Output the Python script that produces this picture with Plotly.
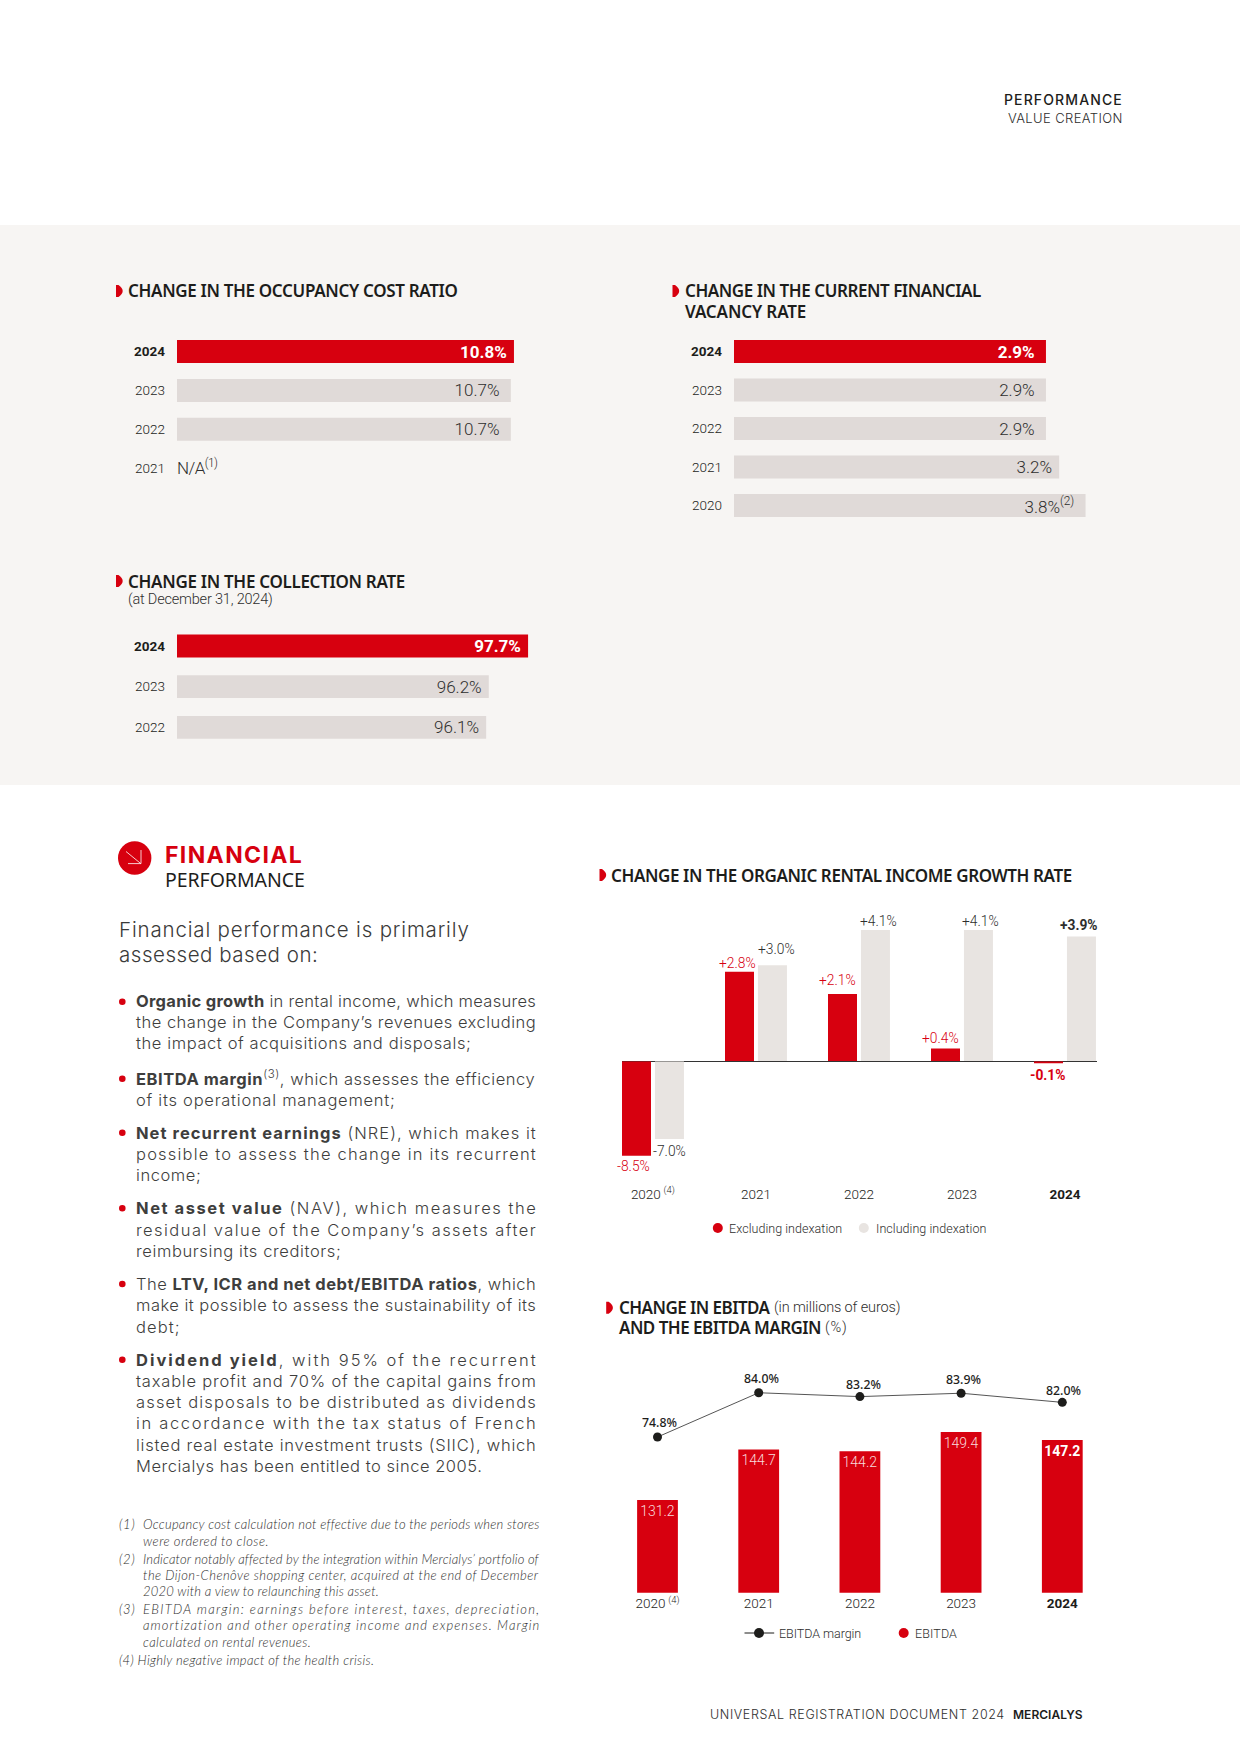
import json
import plotly.graph_objects as go

W, H = 1240, 1753
RED = "#D7000F"
BAR_GRAY = "#E0DAD8"
LIGHT_GRAY = "#E8E4E1"
PANEL = "#F7F5F3"
DARK = "#1D1D1B"
TEXT = "#2E2E2D"
CHART_FONT = "Roboto"
TITLE_FONT = "Noto Sans"
BODY_FONT = "Inter"
NOTE_FONT = "Lato"
NB = "\u00a0"

# ---------------- data ----------------
occ_years = ["2024", "2023", "2022", "2021"]
occ_values = [10.8, 10.7, 10.7]
occ_labels = ["<b>10.8%</b>", "10.7%" + NB, "10.7%" + NB]

vac_years = ["2024", "2023", "2022", "2021", "2020"]
vac_values = [2.9, 2.9, 2.9, 3.2, 3.8]
vac_labels = ["<b>2.9%</b>" + NB, "2.9%" + NB, "2.9%" + NB, "3.2%", "3.8%<sup>(2)</sup>" + NB]

col_years = ["2024", "2023", "2022"]
col_values = [97.7, 96.2, 96.1]
col_labels = ["<b>97.7%</b>", "96.2%", "96.1%"]

years = ["2020", "2021", "2022", "2023", "2024"]
year_ticks = ["2020\u2009<sup>(4)</sup>", "2021", "2022", "2023", "<b>2024</b>"]
excl_index = [-8.5, 2.8, 2.1, 0.4, -0.1]
incl_index = [-7.0, 3.0, 4.1, 4.1, 3.9]
excl_labels = ["-8.5%", "+2.8%", "+2.1%", "+0.4%", "<b>-0.1%</b>"]
incl_labels = ["-7.0%", "+3.0%", "+4.1%", "+4.1%", "<b>+3.9%</b>"]

ebitda = [131.2, 144.7, 144.2, 149.4, 147.2]
ebitda_labels = ["131.2", "144.7", "144.2", "149.4", "<b>147.2</b>"]
margin = [74.8, 84.0, 83.2, 83.9, 82.0]
margin_labels = ["74.8%", "84.0%", "83.2%", "83.9%", "82.0%"]

body_lines = [
    ("<b>Organic growth</b> in rental income, which measures", 1001.2, 399),
    ("the change in the Company’s revenues excluding", 1022.2, 399),
    ("the impact of acquisitions and disposals;", 1043.2, 334),
    ("<b>EBITDA margin</b><sup>(3)</sup>, which assesses the efficiency", 1078.2, 399),
    ("of its operational management;", 1099.5, 258),
    ("<b>Net recurrent earnings</b> (NRE), which makes it", 1132.7, 399),
    ("possible to assess the change in its recurrent", 1154, 399),
    ("income;", 1175.3, 64),
    ("<b>Net asset value</b> (NAV), which measures the", 1208.3, 399),
    ("residual value of the Company’s assets after", 1229.7, 399),
    ("reimbursing its creditors;", 1251, 204),
    ("The <b>LTV, ICR and net debt/EBITDA ratios</b>, which", 1284, 399),
    ("make it possible to assess the sustainability of its", 1305.3, 399),
    ("debt;", 1326.7, 42.7),
    ("<b>Dividend yield</b>, with 95% of the recurrent", 1359.7, 399),
    ("taxable profit and 70% of the capital gains from", 1381, 399),
    ("asset disposals to be distributed as dividends", 1402.3, 399),
    ("in accordance with the tax status of French", 1423.3, 399),
    ("listed real estate investment trusts (SIIC), which", 1444.7, 399),
    ("Mercialys has been entitled to since 2005.", 1466, 345),
]
bullet_ys = [1001.7, 1078.7, 1132.7, 1208.3, 1284, 1359.7]

note_lines = [
    ("Occupancy cost calculation not effective due to the periods when stores", 1524, 395),
    ("were ordered to close.", 1540.7, 124.7),
    ("Indicator notably affected by the integration within Mercialys’ portfolio of", 1558.7, 395),
    ("the Dijon-Chenôve shopping center, acquired at the end of December", 1575, 395),
    ("2020 with a view to relaunching this asset.", 1591, 235),
    ("EBITDA margin: earnings before interest, taxes, depreciation,", 1609, 395),
    ("amortization and other operating income and expenses. Margin", 1625.3, 395),
    ("calculated on rental revenues.", 1641.7, 167),
]
note_marks = [("(1)", 1524), ("(2)", 1558.7), ("(3)", 1609)]

# label offsets, in pixels, from the point each label belongs to
excl_dx, excl_dy = [-19, -18.4, -21.2, -21.2, -17.9], [-10, 9, 14, 11, -12.5]
incl_dx, incl_dy = [16.8, 20.7, 19.6, 18.4, 14.5], [-12, 16, 9.5, 9.5, 11.5]
margin_dx, margin_dy = [1.5, 2.7, 3.6, 2.1, 1], [14.3, 14, 12, 13.3, 12]

# ---------------- helpers ----------------
def px(x):
    return x / W

def py(y):
    return 1 - y / H

def xdom(a, b):
    return [px(a), px(b)]

def ydom(top, bottom):
    return [py(bottom), py(top)]

def cat_range(first_centre, step, start, end):
    return [(start - first_centre) / step, (end - first_centre) / step]

HIDDEN = dict(showticklabels=False, ticks="", showgrid=False, zeroline=False, showline=False)
annotations, shapes, fit = [], [], []

def label(text, x, y, size, family=CHART_FONT, color=TEXT, weight=400, target=None, style="normal"):
    annotations.append(dict(
        text=text, x=px(x - 0.8), y=py(y), xref="paper", yref="paper", showarrow=False,
        xanchor="left", yanchor="middle", align="left", borderpad=0,
        font=dict(family=family, size=size, color=color, weight=weight, style=style)))
    if target is not None:
        fit.append([len(annotations) - 1, target + 0.8])

def data_label(text, cat_index, value, xref, yref, dx, dy, font):
    # numeric-looking categories must be addressed by their index on the axis
    annotations.append(dict(
        text=text, x=cat_index, y=value, xref=xref, yref=yref, xshift=dx, yshift=dy, showarrow=False,
        xanchor="center", yanchor="middle", align="center", borderpad=0, font=font))

def dot(x, y, r, color):
    shapes.append(dict(type="circle", xref="paper", yref="paper", x0=px(x - r), x1=px(x + r),
                       y0=py(y + r), y1=py(y - r), fillcolor=color, line_width=0))

def line(x0, y0, x1, y1, color, width):
    shapes.append(dict(type="line", xref="paper", yref="paper", x0=px(x0), x1=px(x1),
                       y0=py(y0), y1=py(y1), line=dict(color=color, width=width)))

def title_mark(x, y):
    pts = [(x, y - 6), (x, y + 6), (x + 2.5, y + 6), (x + 10.9, y), (x + 2.5, y - 6)]
    p = [(px(a), py(b)) for a, b in pts]
    path = (f"M{p[0][0]},{p[0][1]} L{p[1][0]},{p[1][1]} L{p[2][0]},{p[2][1]} "
            f"Q{p[3][0]},{p[3][1]} {p[4][0]},{p[4][1]} Z")
    shapes.append(dict(type="path", path=path, xref="paper", yref="paper", fillcolor=RED, line_width=0))

fig = go.Figure()
layout_axes = {}

def hbar_chart(n, cats, values, labels, x0, scale, start, top, bottom, centre, step, width, base=None):
    sx = "" if n == 1 else str(n)
    xs = values if base is None else [v - base for v in values]
    colors = [RED] + [BAR_GRAY] * (len(values) - 1)
    tcolors = ["white"] + [TEXT] * (len(values) - 1)
    fig.add_trace(go.Bar(
        orientation="h", y=cats[:len(values)], x=xs, base=base, width=width,
        marker=dict(color=colors, line_width=0),
        text=[t + NB for t in labels], textposition="inside", insidetextanchor="end",
        textangle=0, constraintext="none", cliponaxis=False,
        textfont=dict(family=CHART_FONT, size=17, color=tcolors, weight=300),
        xaxis="x" + sx, yaxis="y" + sx, hoverinfo="skip", showlegend=False))
    x1 = x0 + 400
    layout_axes["xaxis" + sx] = dict(domain=xdom(x0, x1), range=[start, start + 400 / scale],
                                     anchor="y" + sx, **HIDDEN)
    ticks = ["<b>%s</b>" % c if c == "2024" else c for c in cats]
    layout_axes["yaxis" + sx] = dict(
        domain=ydom(top, bottom), type="category", categoryorder="array", categoryarray=cats,
        range=cat_range(centre, step, bottom, top), tickvals=cats, ticktext=ticks, showgrid=False,
        zeroline=False, showline=False, ticks="", ticklabelstandoff=11, anchor="x" + sx,
        tickfont=dict(family=CHART_FONT, size=13.5, color=DARK, weight=300))

# ---------------- three horizontal bar charts ----------------
hbar_chart(1, occ_years, occ_values, occ_labels, 177, 31.2, 0, 335, 485, 351.5, 38.9, 0.59)
VAC_START = -4.19
hbar_chart(2, vac_years, vac_values, vac_labels, 734, 44, VAC_START, 335, 525, 351.5, 38.5, 0.6, base=VAC_START)
hbar_chart(3, col_years, col_values, col_labels, 177, 26.2, 84.3, 630, 745, 646, 40.7, 0.56)

# ---------------- organic growth: positive and negative halves of the scale ----------------
ORG_X0, ORG_X1 = 621.7, 1097
ORG_ZERO, ORG_TOP, ORG_BOTTOM = 1061.3, 920, 1183
org_xrange = cat_range(652.9, 103, ORG_X0, ORG_X1)
BAR_W, OFF_A, OFF_B = 0.2816, -0.3, 0.02

def org_trace(values, labels, color, tcolor, offset, positive, ax, dxs, dys):
    idx = [i for i, v in enumerate(values) if (v > 0) == positive]
    fig.add_trace(go.Bar(
        x=[years[i] for i in idx], y=[values[i] for i in idx],
        width=BAR_W, offset=offset, marker=dict(color=color, line_width=0), cliponaxis=False,
        xaxis="x" + ax, yaxis="y" + ax, hoverinfo="skip", showlegend=False))
    font = dict(family=CHART_FONT, size=13.8, color=tcolor, weight=300)
    for i in idx:
        data_label(labels[i], i, values[i], "x" + ax, "y" + ax, dxs[i], dys[i], font)

for ax, positive in (("4", True), ("5", False)):
    org_trace(excl_index, excl_labels, RED, RED, OFF_A, positive, ax, excl_dx, excl_dy)
    org_trace(incl_index, incl_labels, LIGHT_GRAY, TEXT, OFF_B, positive, ax, incl_dx, incl_dy)

layout_axes["xaxis4"] = dict(domain=xdom(ORG_X0, ORG_X1), type="category", categoryorder="array",
                             categoryarray=years, range=org_xrange, anchor="y4", showticklabels=False,
                             ticks="", showgrid=False, showline=True, linecolor="#333333", linewidth=1, zeroline=False)
layout_axes["yaxis4"] = dict(domain=ydom(ORG_TOP, ORG_ZERO), range=[0, (ORG_ZERO - ORG_TOP) / 32],
                             anchor="x4", **HIDDEN)
layout_axes["xaxis5"] = dict(domain=xdom(ORG_X0, ORG_X1), type="category", categoryorder="array",
                             categoryarray=years, range=org_xrange, anchor="y5", tickvals=years,
                             ticktext=year_ticks, ticks="", showgrid=False, showline=False, zeroline=False,
                             ticklabelstandoff=1, tickfont=dict(family=CHART_FONT, size=13.5, color=DARK, weight=300))
layout_axes["yaxis5"] = dict(domain=ydom(ORG_ZERO, ORG_BOTTOM), range=[-(ORG_BOTTOM - ORG_ZERO) / 11.1, 0],
                             anchor="x5", **HIDDEN)

# ---------------- EBITDA bars and margin line ----------------
EB_X0, EB_X1, EB_TOP, EB_BASE = 630, 1090, 1370, 1592.7
eb_xrange = cat_range(657.5, 101.2, EB_X0, EB_X1)
fig.add_trace(go.Bar(
    x=years, y=ebitda, width=0.403, marker=dict(color=RED, line_width=0), text=ebitda_labels,
    textposition="inside", insidetextanchor="end", textangle=0, constraintext="none",
    textfont=dict(family=CHART_FONT, size=14, color=["#F8DADB"] * 4 + ["white"], weight=300),
    xaxis="x6", yaxis="y6", hoverinfo="skip", showlegend=False, name="EBITDA"))
fig.add_trace(go.Scatter(
    x=years, y=margin, mode="lines+markers",
    line=dict(color="#555555", width=1), marker=dict(color=DARK, size=9), cliponaxis=False,
    xaxis="x6", yaxis="y7", hoverinfo="skip", showlegend=False, name="EBITDA margin"))
margin_font = dict(family=TITLE_FONT, size=12.3, color=DARK, weight=500)
for i, t in enumerate(margin_labels):
    data_label(t, i, margin[i], "x6", "y7", margin_dx[i], margin_dy[i], margin_font)
layout_axes["xaxis6"] = dict(domain=xdom(EB_X0, EB_X1), type="category", categoryorder="array",
                             categoryarray=years, range=eb_xrange, anchor="y6", tickvals=years,
                             ticktext=year_ticks, ticks="", showgrid=False, showline=False, zeroline=False,
                             ticklabelstandoff=1, tickfont=dict(family=CHART_FONT, size=13.5, color=DARK, weight=300))
layout_axes["yaxis6"] = dict(domain=ydom(EB_TOP, EB_BASE), range=[106.4, 106.4 + (EB_BASE - EB_TOP) / 3.74],
                             anchor="x6", **HIDDEN)
layout_axes["yaxis7"] = dict(domain=ydom(EB_TOP, EB_BASE), overlaying="y6",
                             range=[74.8 - (EB_BASE - 1437) / 4.81, 74.8 + (1437 - EB_TOP) / 4.81],
                             anchor="x6", **HIDDEN)

# ---------------- page furniture ----------------
shapes.append(dict(type="rect", xref="paper", yref="paper", x0=0, x1=1, y0=py(785), y1=py(225),
                   fillcolor=PANEL, line_width=0, layer="below"))

label("PERFORMANCE", 1004, 100, 14, BODY_FONT, DARK, 500, target=117)
label("VALUE CREATION", 1007.5, 118.5, 13, BODY_FONT, TEXT, 300, target=113.5)

title_mark(116, 291)
label("CHANGE IN THE OCCUPANCY COST RATIO", 128, 291, 17, TITLE_FONT, DARK, 600, target=329)
title_mark(672.5, 291)
label("CHANGE IN THE CURRENT FINANCIAL", 684.5, 291, 17, TITLE_FONT, DARK, 600, target=295.5)
label("VACANCY RATE", 684.5, 311, 17, TITLE_FONT, DARK, 600, target=120.5)
title_mark(116, 581)
label("CHANGE IN THE COLLECTION RATE", 128, 581, 17, TITLE_FONT, DARK, 600, target=276.5)
label("(at December 31, 2024)", 128, 599.7, 14.5, CHART_FONT, TEXT, 300, target=144)
label("N/A<sup>(1)</sup>", 177, 467.5, 17, CHART_FONT, TEXT, 300, target=39)

# section heading
dot(134.7, 858, 16.7, RED)
line(126, 851.5, 140.8, 863.6, "white", 0.8)
line(128, 863.6, 141, 863.6, "white", 0.8)
line(141, 850, 141, 863.6, "white", 0.8)
label("FINANCIAL", 164.5, 855, 23, BODY_FONT, RED, 700, target=136)
label("PERFORMANCE", 164.5, 879.3, 19.5, TITLE_FONT, DARK, 400, target=139)
label("Financial performance is primarily", 118.3, 929, 20.5, BODY_FONT, "#3A3A39", 300, target=349)
label("assessed based on:", 118.3, 955, 20.5, BODY_FONT, "#3A3A39", 300, target=198)

for t, y, w in body_lines:
    label(t, 136, y, 16.5, BODY_FONT, "#3E3E3D", 300, target=w)
for y in bullet_ys:
    dot(122.3, y, 3.3, RED)

for m, y in note_marks:
    label(m, 119, y, 13, NOTE_FONT, TEXT, 300, style="italic", target=15)
for t, y, w in note_lines:
    label(t, 142.3, y, 13, NOTE_FONT, TEXT, 300, style="italic", target=w)
label("(4) Highly negative impact of the health crisis.", 119, 1660, 13, NOTE_FONT, TEXT, 300, style="italic", target=254)

# organic chart heading and legend
title_mark(599.5, 875)
label("CHANGE IN THE ORGANIC RENTAL INCOME GROWTH RATE", 611, 875, 17, TITLE_FONT, DARK, 600, target=460.4)
dot(717.8, 1228, 5, RED)
label("Excluding indexation", 728.6, 1228, 12.5, CHART_FONT, TEXT, 300, target=112.4)
dot(863.8, 1228, 5, LIGHT_GRAY)
label("Including indexation", 875.3, 1228, 12.5, CHART_FONT, TEXT, 300, target=109.6)

# EBITDA chart heading and legend
title_mark(606.2, 1307.7)
label("CHANGE IN EBITDA", 618.4, 1307.7, 17, TITLE_FONT, DARK, 600, target=150.8)
label("(in millions of euros)", 773.6, 1307.7, 14.5, CHART_FONT, TEXT, 300, target=125.7)
label("AND THE EBITDA MARGIN", 618.4, 1327.7, 17, TITLE_FONT, DARK, 600, target=201.8)
label("(%)", 825, 1327.7, 14.5, CHART_FONT, TEXT, 300, target=21)
line(744.5, 1633, 774.2, 1633, DARK, 1)
dot(759, 1633, 5, DARK)
label("EBITDA margin", 778.6, 1633, 12.5, CHART_FONT, TEXT, 300, target=81.4)
dot(903.7, 1633, 5, RED)
label("EBITDA", 915.2, 1633, 12.5, CHART_FONT, TEXT, 300, target=41.3)

# footer
label("UNIVERSAL REGISTRATION DOCUMENT 2024", 709.5, 1714, 12.5, BODY_FONT, TEXT, 300, target=293.5)
label("MERCIALYS", 1013, 1714, 12, BODY_FONT, DARK, 600, target=69)

fig.update_layout(
    width=W, height=H, margin=dict(l=0, r=0, t=0, b=0, pad=0), paper_bgcolor="white",
    plot_bgcolor="rgba(0,0,0,0)", barmode="overlay", showlegend=False,
    annotations=annotations, shapes=shapes, **layout_axes)

post = """
document.body.style.margin = '0';
var fit = %s;
fit.forEach(function (f) {
  var g = document.querySelector('.annotation[data-index="' + f[0] + '"] .annotation-text');
  if (!g) return;
  var n = g.textContent.length;
  var extra = (f[1] - g.getBBox().width) / Math.max(n - 1, 1);
  g.style.letterSpacing = extra.toFixed(3) + 'px';
});
""" % json.dumps(fit)

fig.write_html("out.html", config={"displayModeBar": False}, post_script=post)
